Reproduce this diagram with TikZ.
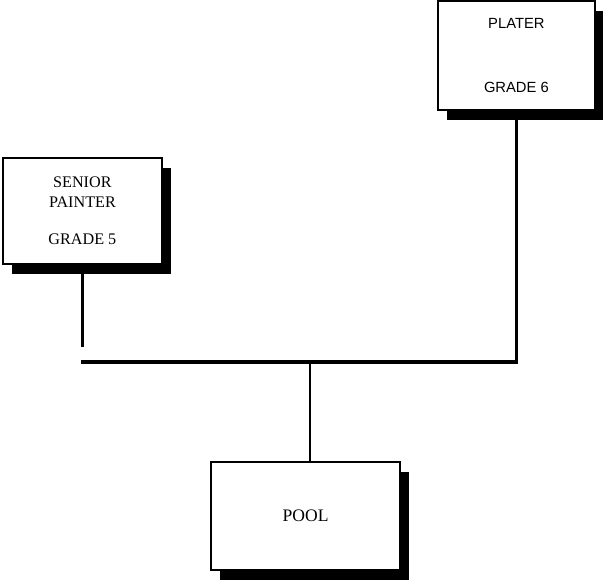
\documentclass[tikz,border=0pt]{standalone}
\usepackage{fontspec}
\setmainfont{Liberation Serif}
\newfontfamily\platerfont{Liberation Sans}
\usetikzlibrary{positioning,shadows}
\tikzset{
  postbox/.style={draw=black,fill=white,line width=1.4pt,align=center,
                  inner sep=0pt,
                  drop shadow={shadow xshift=0.22cm,shadow yshift=-0.24cm,
                               fill=black,opacity=1}},
  busline/.style={line width=2.4pt,draw=black},
  linkline/.style={line width=2.1pt,draw=black}
}
\begin{document}
\begin{tikzpicture}[x=1cm,y=1cm]
    \path[use as bounding box] (0,0) rectangle (15.075,14.55);

    \node[postbox,minimum width=3.93cm,minimum height=2.73cm,
          font=\platerfont\fontsize{10.5}{13}\selectfont] (plater) at (12.91,13.16)
      {PLATER\\[33pt]GRADE 6};
    \node[postbox,minimum width=3.98cm,minimum height=2.65cm,
          font=\fontsize{11.5}{14.2}\selectfont] (painter) at (2.06,9.275)
      {SENIOR\\PAINTER\\[12pt]GRADE 5};
    \node[postbox,minimum width=4.73cm,minimum height=2.7cm,
          font=\fontsize{12.5}{15}\selectfont] (pool) at (7.64,1.65)
      {POOL};

    \coordinate (busL) at (2.025,5.5);
    \coordinate (busR) at (plater.south |- busL);
    \coordinate (poolTop) at ([xshift=0.11cm]pool.north);
    \coordinate (busMid) at (poolTop |- busL);
    \coordinate (painterEnd) at ([yshift=-2.05cm]painter.south);

    \draw[busline] (busL) -- (busR) -- (plater.south);
    \draw[linkline] (busMid) -- (poolTop);
    \draw[linkline] (painter.south) -- (painterEnd);
  \end{tikzpicture}
\end{document}
